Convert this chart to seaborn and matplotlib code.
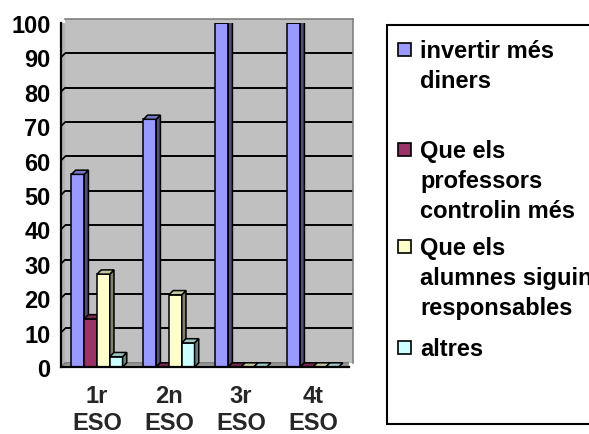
import matplotlib
matplotlib.use("Agg")
import matplotlib.pyplot as plt
import matplotlib.transforms as mtrans
from matplotlib.patches import Polygon, Rectangle
import pandas as pd
import seaborn as sns

# ---------------- data ----------------
cursos = ["1r\nESO", "2n\nESO", "3r\nESO", "4t\nESO"]
series = ["invertir més\ndiners",
          "Que els\nprofessors\ncontrolin més",
          "Que els\nalumnes siguin\nresponsables",
          "altres"]
invertir = [56, 72, 100, 100]
professors = [14, 0, 0, 0]
alumnes = [27, 21, 0, 0]
altres = [3, 7, 0, 0]
yticks = [0, 10, 20, 30, 40, 50, 60, 70, 80, 90, 100]
colors = ["#9999FF", "#993366", "#FFFFCC", "#CCFFFF"]

rows = []
for s, vals in zip(series, [invertir, professors, alumnes, altres]):
    for c, v in zip(cursos, vals):
        rows.append({"curs": c, "serie": s, "valor": v})
df = pd.DataFrame(rows)

# ---------------- style ----------------
sns.set_style("white")
plt.rcParams["font.family"] = ["Liberation Sans", "DejaVu Sans"]
plt.rcParams["font.weight"] = "bold"
FS = 17

W, H = 589, 435
DPI = 100
fig = plt.figure(figsize=(W / DPI, H / DPI), dpi=DPI)
D = 4.2  # 3D depth in pixels


def shade(col, f):
    r, g, b = matplotlib.colors.to_rgb(col)
    return (r * f, g * f, b * f)


# front axes (bars, axis lines, ticks)
L, R, T, B = 61, 349, 24, 368
ax = fig.add_axes([L / W, (H - B) / H, (R - L) / W, (B - T) / H])
# back wall axes (gray wall + grid)
wall = fig.add_axes([(L + D) / W, (H - B + D) / H, (R - L) / W, (B - T) / H])
wall.set_zorder(0)
ax.set_zorder(1)
ax.patch.set_alpha(0)

wall.set_facecolor("#C0C0C0")
wall.set_xlim(0, 1)
wall.set_ylim(0, 100)
wall.set_yticks(yticks[1:-1])
wall.set_xticks([])
wall.grid(axis="y", color="black", linewidth=1.4)
wall.tick_params(left=False, labelleft=False)
for s in ["left", "bottom"]:
    wall.spines[s].set_visible(False)
for s in ["top", "right"]:
    wall.spines[s].set_color("#808080")
    wall.spines[s].set_linewidth(1.2)

sns.barplot(data=df, x="curs", y="valor", hue="serie", order=cursos,
            hue_order=series, palette=colors, saturation=1, width=0.71,
            edgecolor="black", linewidth=1.1, legend=False, ax=ax)

ax.set_xlim(-0.5, len(cursos) - 0.5)
ax.set_ylim(0, 100)
ax.set_xlabel("")
ax.set_ylabel("")

fig.canvas.draw()
ident = mtrans.IdentityTransform()

# side wall and floor
(lx, by), (rx, ty) = ax.transAxes.transform([(0, 0), (1, 1)])
side = Polygon([(lx, by), (lx, ty), (lx + D, ty + D), (lx + D, by + D)],
               closed=True, facecolor="#B2B2B2", edgecolor="none",
               transform=ident, zorder=0.5)
ax.add_patch(side)
for yv in yticks[1:-1]:
    yy = ax.transData.transform((0, yv))[1]
    ax.add_line(matplotlib.lines.Line2D([lx, lx + D], [yy, yy + D], color="black",
                                        linewidth=1.2, transform=ident, zorder=0.6))
floor = Polygon([(lx, by), (rx, by), (rx + D, by + D), (lx + D, by + D)],
                closed=True, facecolor="#9A9A9A", edgecolor="#6E6E6E", linewidth=0.8,
                transform=ident, zorder=0.5)
ax.add_patch(floor)

# 3D faces for each bar, painted left to right
bars = sorted([p for p in ax.patches if isinstance(p, Rectangle) and p.get_width() < 0.5],
              key=lambda p: p.get_x())
for i, p in enumerate(bars):
    z = 2 + i * 0.01
    p.set_zorder(z)
    fc = p.get_facecolor()[:3]
    x0, y0 = p.get_x(), p.get_y()
    (X0, Y0), (X1, Y1) = ax.transData.transform([(x0, y0), (x0 + p.get_width(), y0 + p.get_height())])
    sidef = Polygon([(X1, Y0), (X1, Y1), (X1 + D, Y1 + D), (X1 + D, Y0 + D)], closed=True,
                    facecolor=shade(fc, 0.5), edgecolor="black", linewidth=1.1,
                    transform=ident, zorder=z + 0.001)
    topf = Polygon([(X0, Y1), (X1, Y1), (X1 + D, Y1 + D), (X0 + D, Y1 + D)], closed=True,
                   facecolor=shade(fc, 0.78), edgecolor="black", linewidth=1.1,
                   transform=ident, zorder=z + 0.002)
    ax.add_patch(sidef)
    ax.add_patch(topf)

# axes lines and ticks
for s in ["top", "right"]:
    ax.spines[s].set_visible(False)
for s in ["left", "bottom"]:
    ax.spines[s].set_color("black")
    ax.spines[s].set_linewidth(1.6)
    ax.spines[s].set_zorder(5)
ax.set_yticks(yticks)
ax.set_yticklabels([str(v) for v in yticks], fontsize=FS, fontweight="bold")
ax.tick_params(axis="y", length=6, width=1.6, pad=1.5, color="black", labelcolor="black")
ax.set_xticks(range(len(cursos)))
ax.set_xticklabels(cursos, fontsize=FS, fontweight="bold", linespacing=1.22)
ax.set_xticks([i - 0.5 for i in range(len(cursos) + 1)], minor=True)
ax.tick_params(axis="x", which="major", length=0, pad=12)
ax.tick_params(axis="x", which="minor", length=5, width=1.6, color="black")

# legend (manual, Excel-like)
fig.patches.append(Rectangle((387 / W, 1 - 425 / H), 300 / W, (425 - 26) / H,
                             transform=fig.transFigure, facecolor="white",
                             edgecolor="black", linewidth=1.5, zorder=0))
first_line = [50, 150, 247, 348]
for lab, col, yc in zip(series, colors, first_line):
    fig.patches.append(Rectangle((398 / W, 1 - (yc + 6.5) / H), 13 / W, 13 / H,
                                 transform=fig.transFigure, facecolor=col,
                                 edgecolor="black", linewidth=1.2, zorder=3))
    for k, line in enumerate(lab.split("\n")):
        fig.text(420 / W, 1 - (yc + 30 * k + 8) / H, line, fontsize=FS,
                 fontweight="bold", va="baseline", ha="left", color="black")

fig.savefig("out.png", dpi=DPI)
